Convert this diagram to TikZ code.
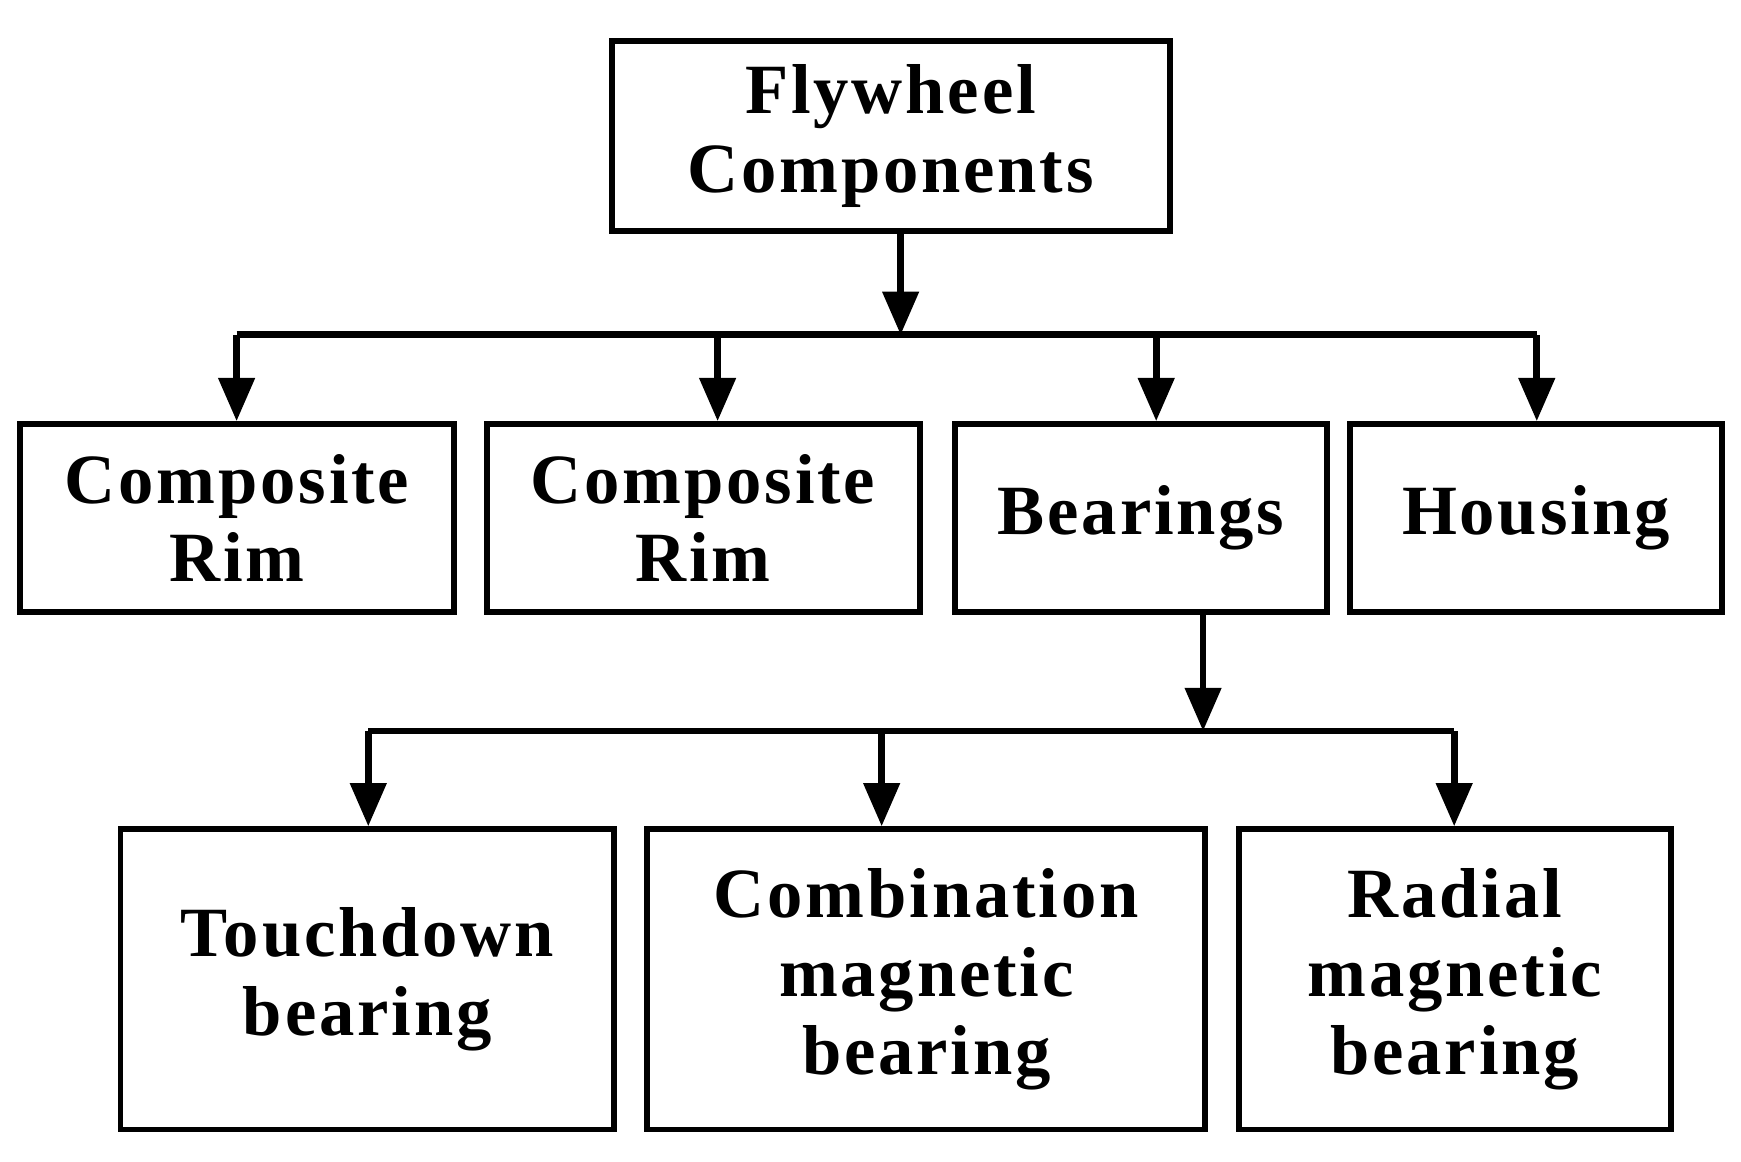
\documentclass[tikz,border=0pt]{standalone}
\usepackage{fontspec}
\setmainfont{Liberation Serif}[LetterSpace=4]
\usetikzlibrary{arrows.meta}
\begin{document}
\begin{tikzpicture}[x=0.01cm,y=-0.01cm,
 box/.style={draw,line width=1.5pt,align=center,inner sep=0pt,font=\fontsize{18}{20}\selectfont\bfseries},
 con/.style={line width=1.7pt},
 arr/.style={con,-{Triangle[length=11pt,width=9pt]}}]
\useasboundingbox (0,0) rectangle (1560,1041);
\newcommand\bx[6]{\node[box,minimum width={(#3-#2)*0.01cm},minimum height={(#5-#4)*0.01cm}] (#1) at ({(#2+#3)/2},{(#4+#5)/2}) {#6};}
\bx{top}{548}{1048}{37}{207}{Flywheel\\Components}
\bx{a}{18}{407}{380}{548}{Composite\\Rim}
\bx{b}{436}{824}{380}{548}{Composite\\Rim}
\bx{c}{856}{1189}{380}{548}{Bearings}
\bx{d}{1210}{1543}{380}{548}{Housing}
\bx{e}{108}{550}{743}{1012}{Touchdown\\bearing}
\bx{f}{580}{1080}{743}{1012}{Combination\\magnetic\\bearing}
\bx{g}{1110}{1497}{743}{1012}{Radial\\magnetic\\bearing}
\coordinate (j1) at (807,300);
\coordinate (j2) at (1078,655);
\draw[arr] (top.south -| j1) -- (j1);
\draw[con] (212,300) -- (1377,300);
\foreach \n/\x in {a/212,b/643,c/1036,d/1377}{\draw[arr] (\x,300) -- (\n.north -| {(\x,0)});}
\draw[arr] (c.south -| j2) -- (j2);
\draw[con] (330,655) -- (1303,655);
\foreach \n/\x in {e/330,f/790,g/1303}{\draw[arr] (\x,655) -- (\n.north -| {(\x,0)});}
\end{tikzpicture}
\end{document}
